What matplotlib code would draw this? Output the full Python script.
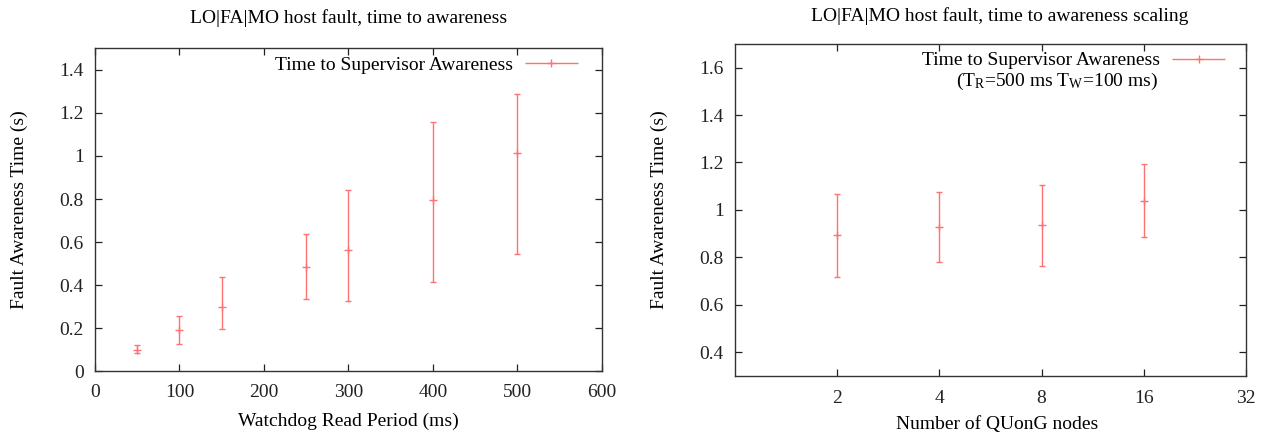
"""
plot.py - time-to-awareness charts for the LO|FA|MO host fault tests.
"""

import matplotlib
matplotlib.use("Agg")
import matplotlib.pyplot as plt
from matplotlib.container import ErrorbarContainer
from matplotlib.legend_handler import HandlerErrorbar
from matplotlib.ticker import FixedLocator, FixedFormatter, NullLocator

plt.rcParams["font.family"] = ["Liberation Serif", "DejaVu Serif"]
plt.rcParams["mathtext.fontset"] = "custom"
plt.rcParams["mathtext.rm"] = "Liberation Serif"
plt.rcParams["mathtext.it"] = "Liberation Serif"

# left: awareness time vs watchdog read period
period_ms  = [50, 100, 150, 250, 300, 400, 500]
period_avg = [0.100, 0.194, 0.298, 0.485, 0.561, 0.794, 1.013]
period_min = [0.086, 0.129, 0.195, 0.338, 0.326, 0.413, 0.543]
period_max = [0.120, 0.259, 0.436, 0.636, 0.843, 1.158, 1.288]

# right: awareness time vs number of nodes
nodes     = [2, 4, 8, 16]
nodes_avg = [0.892, 0.928, 0.935, 1.038]
nodes_min = [0.715, 0.781, 0.763, 0.884]
nodes_max = [1.069, 1.075, 1.107, 1.192]

left_yticks  = [0, 0.2, 0.4, 0.6, 0.8, 1.0, 1.2, 1.4]
left_ylabels = ["0", "0.2", "0.4", "0.6", "0.8", "1", "1.2", "1.4"]
right_yticks  = [0.4, 0.6, 0.8, 1.0, 1.2, 1.4, 1.6]
right_ylabels = ["0.4", "0.6", "0.8", "1", "1.2", "1.4", "1.6"]
node_ticks = [2, 4, 8, 16, 32]

ERR_COLOR = "#ff7272"
FS = 14
XERR = 1.36   # half length of legend sample, in font sizes

ERR_KW = dict(fmt="+", color=ERR_COLOR, ecolor=ERR_COLOR, elinewidth=1.0,
              capsize=2.5, capthick=1.0, markersize=6, markeredgewidth=1.0)


def _errbars(ax, x, avg, lo, hi):
    yerr = [[a - l for a, l in zip(avg, lo)], [h - a for a, h in zip(avg, hi)]]
    ax.errorbar(x, avg, yerr=yerr, **ERR_KW)
    # legend handle drawn gnuplot-style (horizontal bar)
    return ax.errorbar([], [], xerr=[], **ERR_KW)


def _legend(ax, handle, x_anchor, y_anchor):
    return ax.legend([handle], ["Time to Supervisor Awareness"],
                     loc="center right", bbox_to_anchor=(x_anchor, y_anchor),
                     frameon=False, markerfirst=False, fontsize=FS, numpoints=1,
                     handlelength=2 * XERR, handletextpad=0.62,
                     borderpad=0, borderaxespad=0,
                     handler_map={ErrorbarContainer: HandlerErrorbar(xerr_size=XERR)})


def _style(ax):
    ax.tick_params(direction="in", top=True, right=True, length=5, width=0.9,
                   labelsize=FS, colors="#222222")
    for s in ax.spines.values():
        s.set_linewidth(1.0)
        s.set_color("#333333")


fig = plt.figure(figsize=(12.67, 4.34), dpi=100)

# ---- left panel
ax1 = fig.add_axes([0.0750, 0.1445, 0.3999, 0.7442])
h1 = _errbars(ax1, period_ms, period_avg, period_min, period_max)
ax1.set_xlim(0, 600)
ax1.set_ylim(0, 1.5)
ax1.set_xticks(range(0, 601, 100))
ax1.yaxis.set_major_locator(FixedLocator(left_yticks))
ax1.yaxis.set_major_formatter(FixedFormatter(left_ylabels))
_style(ax1)
ax1.tick_params(axis="x", pad=9)
ax1.tick_params(axis="y", pad=8)
_legend(ax1, h1, 0.9527, 0.948)
ax1.set_xlabel("Watchdog Read Period (ms)", fontsize=FS)
ax1.xaxis.set_label_coords(0.5, -0.128)
ax1.set_ylabel("Fault Awareness Time (s)", fontsize=FS)
ax1.yaxis.set_label_coords(-0.132, 0.5)
fig.text(0.2755, 0.958, "LO|FA|MO host fault, time to awareness",
         ha="center", va="center", fontsize=FS)

# ---- right panel
ax2 = fig.add_axes([735 / 1267, 0.1343, 511 / 1267, 0.7643])
h2 = _errbars(ax2, nodes, nodes_avg, nodes_min, nodes_max)
ax2.set_xscale("log", base=2)
ax2.set_xlim(1, 32)
ax2.set_ylim(0.3, 1.7)
ax2.xaxis.set_major_locator(FixedLocator(node_ticks))
ax2.xaxis.set_major_formatter(FixedFormatter([str(n) for n in node_ticks]))
ax2.xaxis.set_minor_locator(NullLocator())
ax2.yaxis.set_major_locator(FixedLocator(right_yticks))
ax2.yaxis.set_major_formatter(FixedFormatter(right_ylabels))
_style(ax2)
ax2.tick_params(axis="x", pad=10)
ax2.tick_params(axis="y", pad=8)
_legend(ax2, h2, 0.9589, 0.950)
ax2.text(0.828, 0.8745, r"(T$_\mathrm{R}$=500 ms T$_\mathrm{W}$=100 ms)",
         transform=ax2.transAxes, ha="right", va="baseline", fontsize=FS)
ax2.set_xlabel("Number of QUonG nodes", fontsize=FS)
ax2.xaxis.set_label_coords(0.512, -0.121)
ax2.set_ylabel("Fault Awareness Time (s)", fontsize=FS)
ax2.yaxis.set_label_coords(-0.131, 0.5)
fig.text(0.789, 0.962, "LO|FA|MO host fault, time to awareness scaling",
         ha="center", va="center", fontsize=FS)

fig.savefig("out.png", dpi=100)
plt.close(fig)
